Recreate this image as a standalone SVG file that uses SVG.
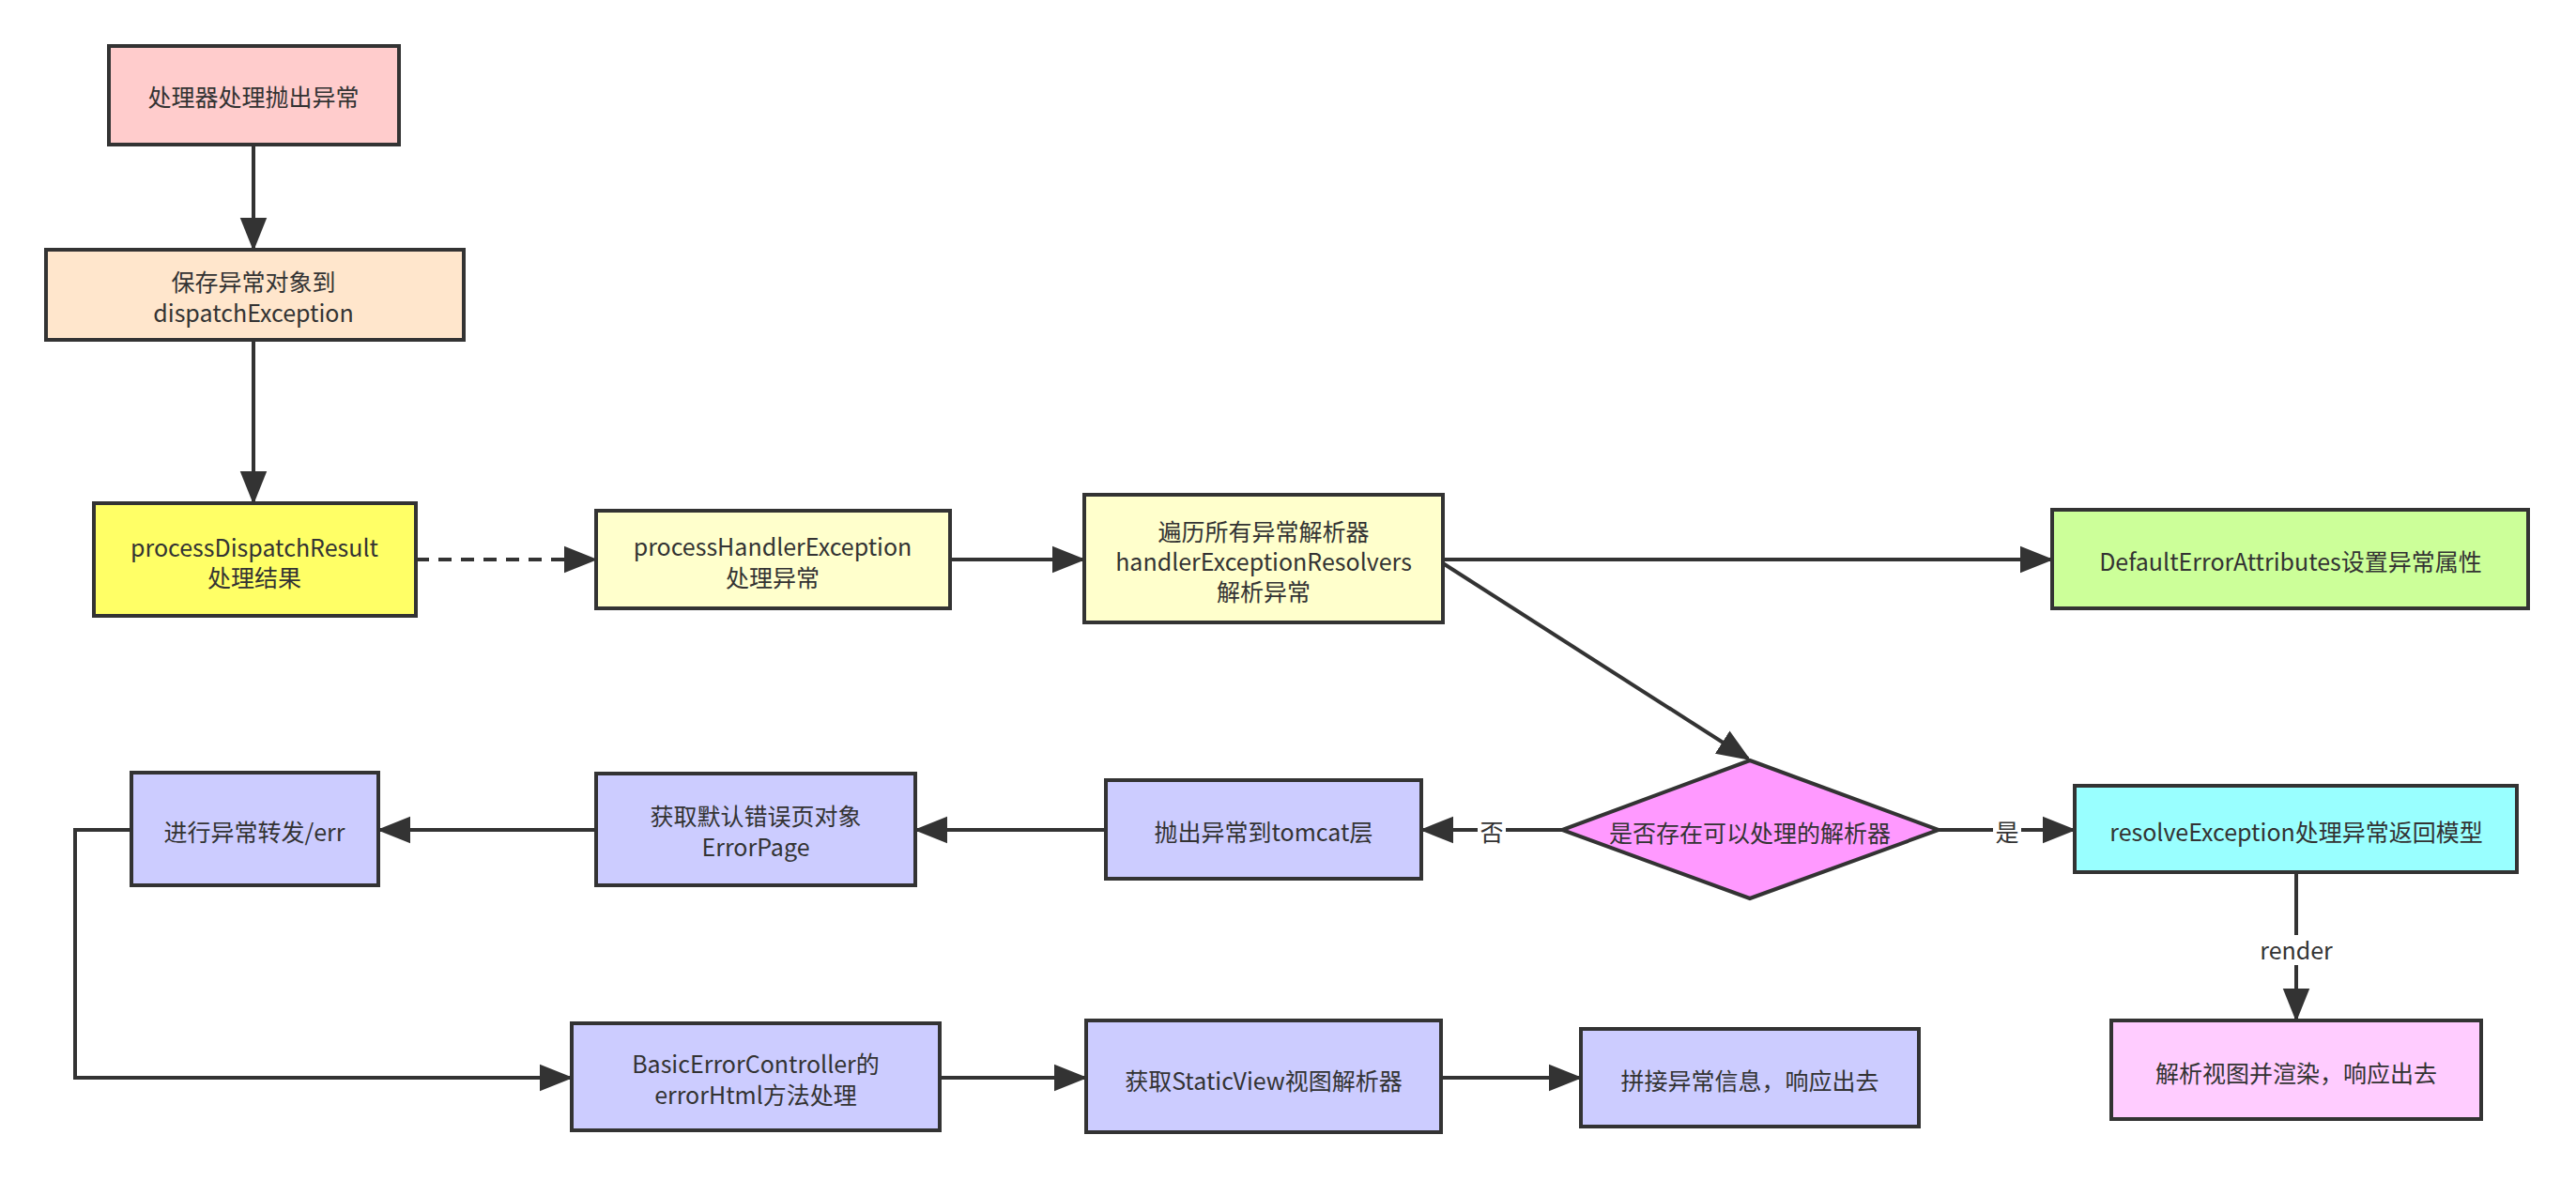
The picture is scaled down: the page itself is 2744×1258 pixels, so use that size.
<svg xmlns="http://www.w3.org/2000/svg" width="2744" height="1258" viewBox="0 0 2744 1258">
<style>
.n{stroke:#333;stroke-width:4}
text{font-family:"Noto Sans CJK SC","Liberation Sans",sans-serif;font-size:25px;fill:#333;text-anchor:middle;dominant-baseline:central}
.c{fill:none;stroke:#333;stroke-width:4}
</style>
<defs><marker id="a" viewBox="0 0 10 10" refX="9" refY="5" markerWidth="8" markerHeight="8" markerUnits="userSpaceOnUse" orient="auto"><path d="M0,0L10,5L0,10z" fill="#333"/></marker>
<marker id="m" viewBox="0 0 10 10" refX="9" refY="5" markerWidth="9" markerHeight="9" orient="auto-start-reverse"><path d="M0,1L10,5L0,9z" fill="#333"/></marker></defs>
<rect width="2744" height="1258" fill="#fff"/>
<g id="connectors">
<path class="c" d="M270,154V264" marker-end="url(#m)"/>
<path class="c" d="M270,362V534" marker-end="url(#m)"/>
<path class="c" d="M443,596H633" stroke-dasharray="14,10" marker-end="url(#m)"/>
<path class="c" d="M1012,596H1153" marker-end="url(#m)"/>
<path class="c" d="M1537,596H2184" marker-end="url(#m)"/>
<path class="c" d="M1537,600L1862,808" marker-end="url(#m)"/>
<path class="c" d="M1664,884H1516" marker-end="url(#m)"/>
<path class="c" d="M2065,884H2208" marker-end="url(#m)"/>
<path class="c" d="M2446,929V1085" marker-end="url(#m)"/>
<path class="c" d="M1178,884H977" marker-end="url(#m)"/>
<path class="c" d="M635,884H405" marker-end="url(#m)"/>
<path class="c" d="M140,884H80V1148H607" marker-end="url(#m)"/>
<path class="c" d="M1001,1148H1155" marker-end="url(#m)"/>
<path class="c" d="M1535,1148H1682" marker-end="url(#m)"/>
<rect x="1574" y="868" width="30" height="32" fill="#fff"/><text x="1589" y="885">否</text>
<rect x="2123" y="868" width="30" height="32" fill="#fff"/><text x="2138" y="885">是</text>
<rect x="2400" y="996" width="92" height="32" fill="#fff"/><text x="2446" y="1011">render</text>
</g>
<g id="n1"><rect class="n" x="116" y="49" width="309" height="105" fill="#FFCCCC"/><text x="270" y="102">处理器处理抛出异常</text></g>
<g id="n2"><rect class="n" x="49" y="266" width="445" height="96" fill="#FFE6CC"/><text x="270" y="299">保存异常对象到</text><text x="270" y="332">dispatchException</text></g>
<g id="n3"><rect class="n" x="100" y="536" width="343" height="120" fill="#FFFF66"/><text x="271" y="582">processDispatchResult</text><text x="271" y="614">处理结果</text></g>
<g id="n4"><rect class="n" x="635" y="544" width="377" height="104" fill="#FFFFCC"/><text x="823" y="581">processHandlerException</text><text x="823" y="614">处理异常</text></g>
<g id="n5"><rect class="n" x="1155" y="527" width="382" height="136" fill="#FFFFCC"/><text x="1346" y="565">遍历所有异常解析器</text><text x="1346" y="597">handlerExceptionResolvers</text><text x="1346" y="629">解析异常</text></g>
<g id="n6"><rect class="n" x="2186" y="543" width="507" height="105" fill="#CCFF99"/><text x="2440" y="597">DefaultErrorAttributes设置异常属性</text></g>
<g id="d"><path class="n" d="M1864,810L2065,884L1864,957L1664,884Z" fill="#FF99FF"/><text x="1864" y="886">是否存在可以处理的解析器</text></g>
<g id="n7"><rect class="n" x="2210" y="837" width="471" height="92" fill="#99FFFF"/><text x="2446" y="885">resolveException处理异常返回模型</text></g>
<g id="n8"><rect class="n" x="2249" y="1087" width="394" height="105" fill="#FFCCFF"/><text x="2446" y="1142">解析视图并渲染，响应出去</text></g>
<g id="n9"><rect class="n" x="1178" y="831" width="336" height="105" fill="#CCCCFF"/><text x="1346" y="885">抛出异常到tomcat层</text></g>
<g id="n10"><rect class="n" x="635" y="824" width="340" height="119" fill="#CCCCFF"/><text x="805" y="868">获取默认错误页对象</text><text x="805" y="901">ErrorPage</text></g>
<g id="n11"><rect class="n" x="140" y="823" width="263" height="120" fill="#CCCCFF"/><text x="271" y="885">进行异常转发/err</text></g>
<g id="n12"><rect class="n" x="609" y="1090" width="392" height="114" fill="#CCCCFF"/><text x="805" y="1132">BasicErrorController的</text><text x="805" y="1165">errorHtml方法处理</text></g>
<g id="n13"><rect class="n" x="1157" y="1087" width="378" height="119" fill="#CCCCFF"/><text x="1346" y="1150">获取StaticView视图解析器</text></g>
<g id="n14"><rect class="n" x="1684" y="1096" width="360" height="104" fill="#CCCCFF"/><text x="1864" y="1150">拼接异常信息，响应出去</text></g>
</svg>
